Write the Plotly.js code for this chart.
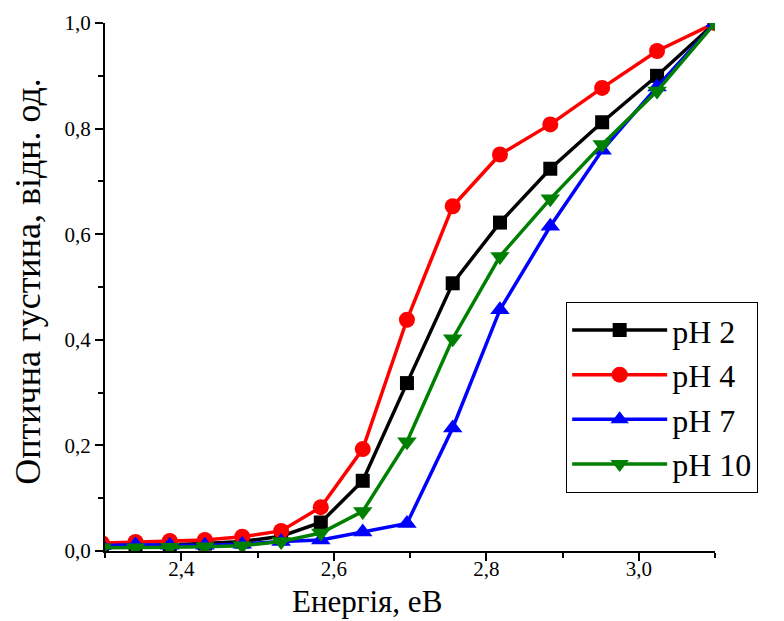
<!DOCTYPE html>
<html>
<head>
<meta charset="utf-8">
<script src="https://cdn.plot.ly/plotly-3.0.1.min.js"></script>
<style>
html,body{margin:0;padding:0;background:#fff;}
#chart{width:784px;height:621px;}
</style>
</head>
<body>
<div id="chart"></div>
<script>
// Photon energy, eV
const energy = [2.296, 2.340, 2.385, 2.431, 2.480, 2.531, 2.583, 2.638, 2.696, 2.756, 2.818, 2.884, 2.952, 3.024, 3.100];
// Optical density, relative units
const ph2  = [0.008, 0.010, 0.012, 0.014, 0.018, 0.028, 0.054, 0.133, 0.318, 0.507, 0.622, 0.724, 0.812, 0.900, 1.000];
const ph4  = [0.015, 0.017, 0.019, 0.021, 0.027, 0.038, 0.083, 0.193, 0.438, 0.653, 0.751, 0.808, 0.877, 0.947, 1.000];
const ph7  = [0.010, 0.012, 0.011, 0.011, 0.013, 0.018, 0.021, 0.036, 0.052, 0.233, 0.457, 0.615, 0.759, 0.879, 1.000];
const ph10 = [0.006, 0.006, 0.007, 0.008, 0.010, 0.018, 0.034, 0.075, 0.207, 0.402, 0.558, 0.667, 0.770, 0.871, 1.000];
const seriesNames = ["pH 2", "pH 4", "pH 7", "pH 10"];
const xTitle = "Енергія, еВ";
const yTitle = "Оптична густина, відн. од.";

const FONT = "Liberation Serif";
const mk = (y, name, color, symbol, size) => ({
  x: energy, y: y, name: name, type: "scatter", mode: "lines+markers",
  line: {color: color, width: 3.5},
  marker: {color: color, symbol: symbol, size: size}
});
const data = [
  mk(ph2, seriesNames[0], "#000000", "square", 14),
  mk(ph4, seriesNames[1], "#ff0000", "circle", 16),
  mk(ph7, seriesNames[2], "#0000ff", "triangle-up", 17),
  mk(ph10, seriesNames[3], "#008000", "triangle-down", 17)
];
const axisCommon = {
  showline: true, linecolor: "#000", linewidth: 2, mirror: false,
  ticks: "outside", ticklen: 8, tickwidth: 2, tickcolor: "#000",
  showgrid: false, zeroline: false,
  tickfont: {family: FONT, size: 21, color: "#000"},
  minor: {dtick: 0.1, ticks: "outside", ticklen: 5, tickwidth: 2, tickcolor: "#000", showgrid: false}
};
const layout = {
  width: 784, height: 621,
  margin: {l: 105, r: 69, t: 23, b: 70},
  paper_bgcolor: "#fff", plot_bgcolor: "#fff",
  separators: ",.",
  font: {family: FONT, color: "#000"},
  xaxis: Object.assign({}, axisCommon, {range: [2.3, 3.1], dtick: 0.2, tick0: 0, tickformat: ".1f", ticklabelstandoff: -10}),
  yaxis: Object.assign({}, axisCommon, {range: [0, 1.0], dtick: 0.2, tick0: 0, tickformat: ".1f"}),
  showlegend: true,
  legend: {
    x: 0.756, y: 0.472, xanchor: "left", yanchor: "top",
    bgcolor: "#fff", bordercolor: "#000", borderwidth: 1,
    font: {family: FONT, size: 32, color: "#000"},
    itemwidth: 95,
    tracegroupgap: 0
  },
  annotations: [
    {text: xTitle, xref: "paper", yref: "paper", x: 0.43, y: -70/528, yanchor: "bottom", xanchor: "center",
     showarrow: false, font: {family: FONT, size: 31, color: "#000"}},
    {text: yTitle, xref: "paper", yref: "paper", x: 0, xshift: -77, y: 0.51, xanchor: "center", yanchor: "middle",
     textangle: -90, showarrow: false, font: {family: FONT, size: 36, color: "#000"}}
  ]
};
Plotly.newPlot("chart", data, layout, {displayModeBar: false, staticPlot: true});
</script>
</body>
</html>
